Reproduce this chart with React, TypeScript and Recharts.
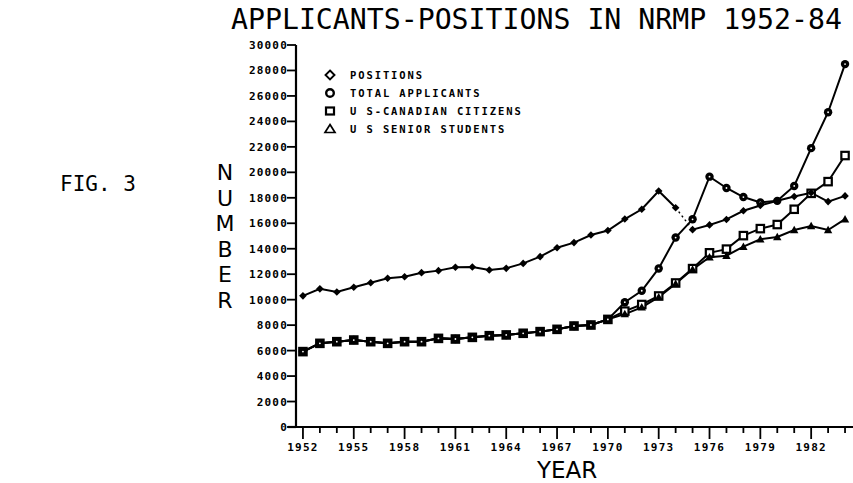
import React from 'react';
import { LineChart, Line, XAxis, YAxis } from 'recharts';

const years = [1952, 1953, 1954, 1955, 1956, 1957, 1958, 1959, 1960, 1961, 1962, 1963, 1964, 1965, 1966, 1967, 1968, 1969, 1970, 1971, 1972, 1973, 1974, 1975, 1976, 1977, 1978, 1979, 1980, 1981, 1982, 1983, 1984];

const positions = [10300, 10850, 10600, 10970, 11330, 11680, 11800, 12120, 12280, 12540, 12560, 12330, 12460, 12850, 13380, 14080, 14480, 15080, 15430, 16330, 17100, 18530, 17220, 15500, 15870, 16300, 16980, 17400, 17770, 18100, 18400, 17700, 18150];

const totalApplicants = [5920, 6570, 6700, 6830, 6700, 6570, 6700, 6700, 6960, 6910, 7040, 7170, 7230, 7360, 7490, 7670, 7930, 8010, 8450, 9800, 10700, 12450, 14880, 16310, 19660, 18770, 18060, 17630, 17760, 18930, 21900, 24720, 28500];

const usCanadian = [5920, 6570, 6700, 6830, 6700, 6570, 6700, 6700, 6960, 6910, 7040, 7170, 7230, 7360, 7490, 7670, 7930, 8010, 8450, 9100, 9620, 10290, 11310, 12440, 13680, 13970, 15030, 15580, 15900, 17100, 18350, 19270, 21320];

const usSeniors = [5920, 6570, 6700, 6830, 6700, 6570, 6700, 6700, 6960, 6910, 7040, 7170, 7230, 7360, 7490, 7670, 7930, 8010, 8450, 8870, 9400, 10200, 11250, 12380, 13330, 13450, 14160, 14740, 14920, 15470, 15790, 15470, 16320];

// year at which the positions count was redefined (dotted join)
const positionsBreakStart = 1974;
const positionsBreakEnd = 1975;

const yTicks = [0, 2000, 4000, 6000, 8000, 10000, 12000, 14000, 16000, 18000, 20000, 22000, 24000, 26000, 28000, 30000];
const xLabelYears = [1952, 1955, 1958, 1961, 1964, 1967, 1970, 1973, 1976, 1979, 1982];

const legendLabels = ['POSITIONS', 'TOTAL APPLICANTS', 'U S-CANADIAN CITIZENS', 'U S SENIOR STUDENTS'];
const titleText = 'APPLICANTS-POSITIONS IN NRMP 1952-84';
const figText = 'FIG. 3';
const yTitleLetters = ['N', 'U', 'M', 'B', 'E', 'R'];
const yTitleValues = [20000, 18000, 16000, 14000, 12000, 10000];
const xTitle = 'YEAR';

const data = years.map((yr, i) => ({
  year: yr,
  posA: yr <= positionsBreakStart ? positions[i] : null,
  posDash: yr >= positionsBreakStart && yr <= positionsBreakEnd ? positions[i] : null,
  posB: yr >= positionsBreakEnd ? positions[i] : null,
  total: totalApplicants[i],
  uscan: usCanadian[i],
  seniors: usSeniors[i],
}));

const W = 853;
const H = 483;
const MT = 45;
const XH = 56;
const YW = 296;
const plotTop = MT;
const plotBottom = H - XH;

const tickFont = {
  fontFamily: '"DejaVu Sans Mono", monospace',
  fontWeight: 700,
  fontSize: 11,
  letterSpacing: 1.2,
};

const XTick = (props: any) => {
  const { x, y, payload } = props;
  const major = xLabelYears.includes(payload.value);
  return (
    <g>
      <line x1={x} x2={x} y1={y} y2={y + (major ? 12 : 6)} stroke="#000" strokeWidth={1.8} />
      {major && (
        <text x={x} y={y + 24} textAnchor="middle" fill="#000" style={tickFont as any}>
          {payload.value}
        </text>
      )}
    </g>
  );
};

const YTick = (props: any) => {
  const { x, y, payload } = props;
  return (
    <text x={x + 1} y={y + 4} textAnchor="end" fill="#000" style={tickFont as any}>
      {payload.value}
    </text>
  );
};

const diamondDot = (p: any) => {
  const { cx, cy, index } = p;
  if (cx == null || cy == null || p.value == null) return <g key={`d${index}`} />;
  const s = 3.8;
  return <path key={`d${index}`} d={`M${cx},${cy - s}L${cx + s},${cy}L${cx},${cy + s}L${cx - s},${cy}Z`} fill="#000" />;
};

const circleDot = (p: any) => {
  const { cx, cy, index } = p;
  if (cx == null || cy == null) return <g key={`c${index}`} />;
  return (
    <g key={`c${index}`}>
      <circle cx={cx} cy={cy} r={4.2} fill="#000" />
      <circle cx={cx} cy={cy} r={0.9} fill="#fff" />
    </g>
  );
};

const squareDot = (p: any) => {
  const { cx, cy, index, payload } = p;
  if (cx == null || cy == null) return <g key={`s${index}`} />;
  const merged = payload && payload.uscan === payload.total;
  return <rect key={`s${index}`} x={cx - 3.7} y={cy - 3.7} width={7.4} height={7.4} fill={merged ? '#000' : '#fff'} stroke="#000" strokeWidth={2.2} />;
};

const triDot = (p: any) => {
  const { cx, cy, index } = p;
  if (cx == null || cy == null) return <g key={`t${index}`} />;
  return <path key={`t${index}`} d={`M${cx},${cy - 4.2}L${cx + 4.2},${cy + 3.2}L${cx - 4.2},${cy + 3.2}Z`} fill="#000" />;
};

const yPix = (v: number) => plotBottom - (v / 30000) * (plotBottom - plotTop);

export default function App() {
  const lineProps = { stroke: '#000', strokeWidth: 2, isAnimationActive: false, type: 'linear' as const };
  return (
    <div style={{ position: 'absolute', left: 0, top: 0, width: W, height: H, background: '#fff' }}>
      <LineChart width={W} height={H} data={data} margin={{ top: MT, right: 0, bottom: 0, left: 0 }}>
        <XAxis
          dataKey="year"
          type="number"
          domain={[1951.59, 1984.47]}
          allowDataOverflow
          ticks={years}
          interval={0}
          height={XH}
          tickSize={0}
          tickMargin={0}
          tickLine={false}
          axisLine={{ stroke: '#000', strokeWidth: 2.2 }}
          tick={<XTick />}
        />
        <YAxis
          type="number"
          domain={[0, 30000]}
          ticks={yTicks}
          interval={0}
          width={YW}
          tickSize={9}
          tickMargin={0}
          tickLine={{ stroke: '#000', strokeWidth: 1.8 }}
          axisLine={{ stroke: '#000', strokeWidth: 2.2 }}
          tick={<YTick />}
        />
        <Line dataKey="uscan" {...lineProps} dot={squareDot} />
        <Line dataKey="seniors" {...lineProps} dot={triDot} />
        <Line dataKey="total" {...lineProps} dot={circleDot} />
        <Line dataKey="posA" {...lineProps} dot={diamondDot} connectNulls={false} />
        <Line dataKey="posDash" {...lineProps} strokeWidth={1.4} strokeDasharray="2 3" dot={false} connectNulls={false} />
        <Line dataKey="posB" {...lineProps} dot={diamondDot} connectNulls={false} />
      </LineChart>
      <svg width={W} height={H} style={{ position: 'absolute', left: 0, top: 0, pointerEvents: 'none' }}>
        <text x={231} y={29} fill="#000" style={{ fontFamily: '"DejaVu Sans Mono", monospace', fontSize: 28.2 }}>
          {titleText}
        </text>
        <text x={60} y={191} fill="#000" style={{ fontFamily: '"DejaVu Sans Mono", monospace', fontSize: 21 }}>
          {figText}
        </text>
        {yTitleLetters.map((l, i) => (
          <text key={l + i} x={225} y={yPix(yTitleValues[i]) + 8} textAnchor="middle" fill="#000" style={{ fontFamily: '"DejaVu Sans", sans-serif', fontSize: 22 }}>
            {l}
          </text>
        ))}
        <text x={537} y={478} fill="#000" style={{ fontFamily: '"DejaVu Sans", sans-serif', fontSize: 23 }}>
          {xTitle}
        </text>
        <line x1={288} x2={296} y1={plotBottom} y2={plotBottom} stroke="#000" strokeWidth={2.2} />
        {legendLabels.map((lab, i) => {
          const cy = 75 + i * 18;
          const cx = 330;
          let mark: any = null;
          if (i === 0) mark = <path d={`M${cx},${cy - 4.5}L${cx + 4.5},${cy}L${cx},${cy + 4.5}L${cx - 4.5},${cy}Z`} fill="none" stroke="#000" strokeWidth={1.9} />;
          if (i === 1) mark = <circle cx={cx} cy={cy} r={3.8} fill="none" stroke="#000" strokeWidth={2.4} />;
          if (i === 2) mark = <rect x={cx - 4} y={cy - 3.5} width={8} height={7} fill="none" stroke="#000" strokeWidth={2.2} />;
          if (i === 3) mark = <path d={`M${cx},${cy - 4.5}L${cx + 5},${cy + 3.5}L${cx - 5},${cy + 3.5}Z`} fill="none" stroke="#000" strokeWidth={1.7} />;
          return (
            <g key={lab}>
              {mark}
              <text x={350} y={cy + 3.8} fill="#000" style={{ fontFamily: '"DejaVu Sans Mono", monospace', fontWeight: 700, fontSize: 10.5, letterSpacing: 1.9 }}>
                {lab}
              </text>
            </g>
          );
        })}
      </svg>
    </div>
  );
}
